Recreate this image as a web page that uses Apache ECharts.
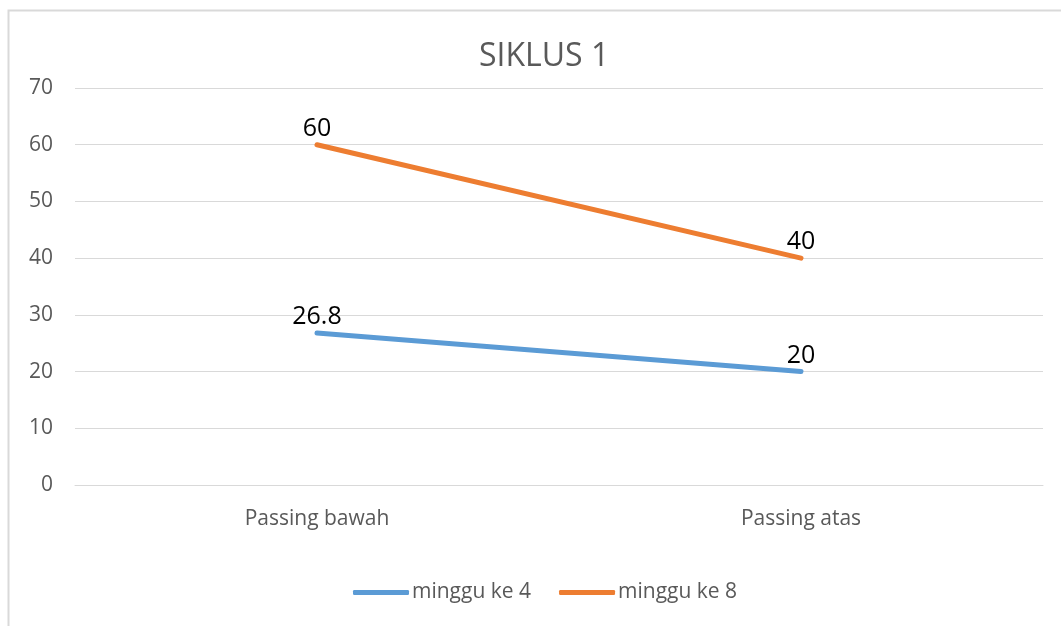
<!DOCTYPE html>
<html><head><meta charset="utf-8">
<script src="https://cdn.jsdelivr.net/npm/echarts@6/dist/echarts.min.js"></script>
<style>html,body{margin:0;padding:0;background:#fff}#c{width:1061px;height:626px}</style>
</head><body><div id="c"></div>
<script>
const categories = ['Passing bawah', 'Passing atas'];
const seriesNames = ['minggu ke 4', 'minggu ke 8'];
const minggu4 = [26.8, 20];
const minggu8 = [60, 40];
const yTicks = [0, 10, 20, 30, 40, 50, 60, 70];

const FONT = '"Open Sans", "Noto Sans", sans-serif';
const chart = echarts.init(document.getElementById('c'), null, {renderer: 'canvas'});
const mk = (name, data, color) => ({
  name, type: 'line', data, symbol: 'circle', symbolSize: 1, showSymbol: true,
  lineStyle: {color, width: 5, cap: 'round'}, itemStyle: {color},
  label: {show: true, position: 'top', distance: 3, color: '#000', fontSize: 25, fontFamily: FONT}
});
chart.setOption({
  animation: false,
  title: {text: 'SIKLUS 1', left: 474, top: 36, textStyle: {color: '#595959', fontSize: 32, fontWeight: 'normal', fontFamily: FONT}},
  graphic: [{type: 'rect', shape: {x: 8.5, y: 10.5, width: 1100, height: 700}, style: {fill: 'none', stroke: '#d9d9d9', lineWidth: 2}, silent: true}],
  legend: {bottom: 18, left: 348, itemWidth: 56, itemHeight: 5, itemGap: 28, icon: 'roundRect',
    textStyle: {color: '#595959', fontSize: 21, fontFamily: FONT, padding: [0, 0, 0, -2]}, data: seriesNames},
  grid: {left: 75, right: 18, top: 88, bottom: 141},
  xAxis: {type: 'category', data: categories, boundaryGap: true,
    axisLine: {lineStyle: {color: '#d9d9d9', width: 1}}, axisTick: {show: false},
    axisLabel: {color: '#595959', fontSize: 21, fontFamily: FONT, margin: 24}},
  yAxis: {type: 'value', min: yTicks[0], max: yTicks[yTicks.length - 1], interval: 10,
    axisLine: {show: false}, axisTick: {show: false},
    splitLine: {lineStyle: {color: '#d9d9d9', width: 1}},
    axisLabel: {color: '#595959', fontSize: 21, fontFamily: FONT, margin: 22}},
  series: [mk(seriesNames[0], minggu4, '#5B9BD5'), mk(seriesNames[1], minggu8, '#ED7D31')]
});
</script></body></html>
